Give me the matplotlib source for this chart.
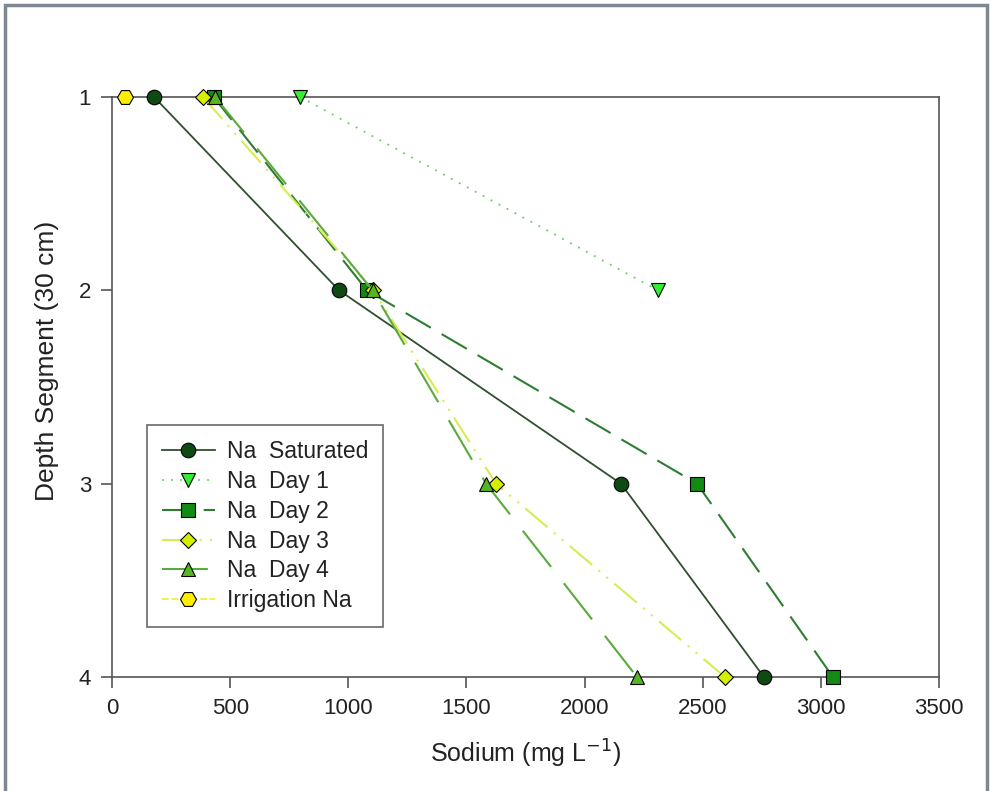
import matplotlib
matplotlib.use("Agg")
import matplotlib.pyplot as plt
from matplotlib.patches import Rectangle

plt.rcParams['font.family'] = ['Liberation Sans', 'DejaVu Sans']

depth_all = [1, 2, 3, 4]
na_saturated = [178, 961, 2154, 2759]
depth_day1 = [1, 2]
na_day1 = [796, 2311]
na_day2 = [430, 1079, 2476, 3051]
na_day3 = [385, 1105, 1625, 2594]
na_day4 = [436, 1103, 1583, 2222]
depth_irr = [1]
na_irr = [55]

x_ticks = [0, 500, 1000, 1500, 2000, 2500, 3000, 3500]
y_ticks = [1, 2, 3, 4]

fig = plt.figure(figsize=(9.9, 7.91), dpi=100)
ax = fig.add_axes([112/990, 1-677/791, (939-112)/990, (677-97)/791])

ms = 10.5
ax.plot(na_saturated, depth_all, color='#2f4f2f', lw=1.3, ls='-', marker='o', ms=ms,
        mfc='#0f4a14', mec='black', mew=0.8, label='Na  Saturated', zorder=3)
ax.plot(na_day1, depth_day1, color='#66cc66', lw=1.3, ls=(0, (1, 4)), marker='v', ms=ms,
        mfc='#33ee33', mec='black', mew=0.8, label='Na  Day 1', zorder=3)
ax.plot(na_day2, depth_all, color='#2e7d32', lw=1.5, ls=(0, (14, 6)), marker='s', ms=ms-1,
        mfc='#138a13', mec='black', mew=0.8, label='Na  Day 2', zorder=3)
ax.plot(na_day3, depth_all, color='#d8ec50', lw=1.5, ls=(0, (14, 4, 1, 4, 1, 4)), marker='D', ms=ms-2,
        mfc='#d4f000', mec='black', mew=0.8, label='Na  Day 3', zorder=3)
ax.plot(na_day4, depth_all, color='#5aaa3c', lw=1.5, ls=(0, (22, 10)), marker='^', ms=ms,
        mfc='#55b522', mec='black', mew=0.8, label='Na  Day 4', zorder=4)
ax.plot(na_irr, depth_irr, color='#eeee44', lw=1.3, ls='--', marker='H', ms=ms+1,
        mfc='#ffee00', mec='black', mew=0.8, label='Irrigation Na', zorder=3)

for l in ax.get_lines():
    l.set_clip_on(False)

ax.set_xlim(0, 3500)
ax.set_ylim(4, 1)
ax.set_xticks(x_ticks)
ax.set_yticks(y_ticks)
ax.tick_params(axis='both', direction='out', length=8, width=1.2, color='#555555',
               labelsize=16, labelcolor='#222222', pad=7)
for s in ax.spines.values():
    s.set_color('#555555')
    s.set_linewidth(1.2)

ax.set_xlabel('Sodium (mg L$^{-1}$)', fontsize=18, color='#222222', labelpad=14)
ax.set_ylabel('Depth Segment (30 cm)', fontsize=19, color='#222222')
ax.yaxis.set_label_coords(-0.064, 0.545)

leg = ax.legend(loc='upper left', bbox_to_anchor=((147-112)/827, (677-425)/580),
                borderaxespad=0, fontsize=16.5, frameon=True, fancybox=False,
                handlelength=2.3, borderpad=0.65, labelspacing=0.3, handletextpad=0.55)
leg.get_frame().set_edgecolor('#444444')
leg.get_frame().set_linewidth(1.2)
for t in leg.get_texts():
    t.set_color('#222222')

fig.patches.append(Rectangle((5/990, -0.01), 982/990, 1 - 5/791 + 0.01, transform=fig.transFigure,
                             fill=False, edgecolor='#7f8890', linewidth=2.5))

fig.savefig('out.png', dpi=100)
